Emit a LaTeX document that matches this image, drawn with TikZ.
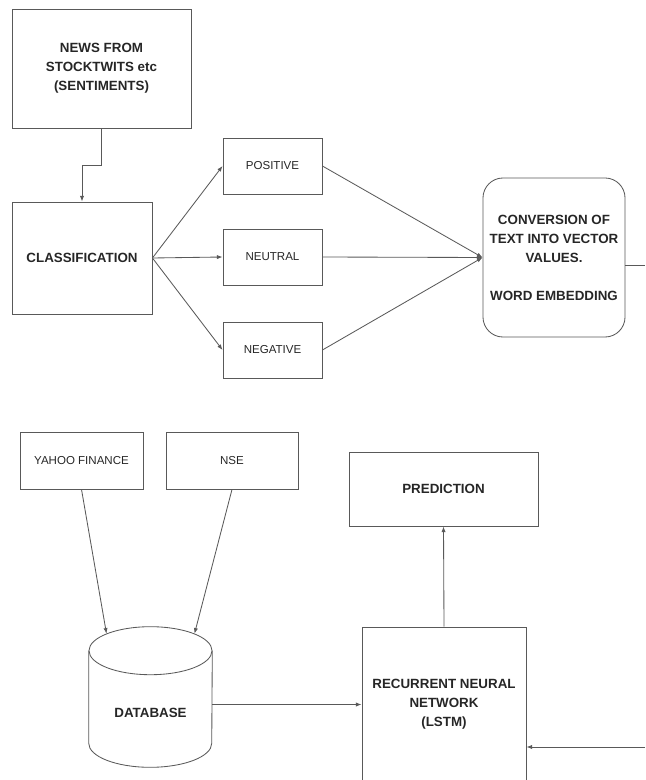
\documentclass[tikz,border=0pt]{standalone}
\usepackage{fontspec}
\setsansfont{Liberation Sans}
\usepackage{tikz}
\usetikzlibrary{positioning, arrows.meta, calc}

\begin{document}
\begin{tikzpicture}[x=0.025cm, y=-0.025cm,
    box/.style={draw=black!65, line width=0.6pt, align=center, inner sep=0pt,
      font=\sffamily\bfseries\fontsize{9.5}{13.5}\selectfont, text=black!85},
    smallbox/.style={box, minimum width=2.475cm, minimum height=1.4cm,
      font=\sffamily\fontsize{8.2}{9}\selectfont},
    link/.style={draw=black!65, line width=0.6pt},
    arr/.style={link, -{Latex[length=4pt,width=3pt]}}]
  \useasboundingbox (0,0) rectangle (645,780);
  \clip (0,0) rectangle (645,780);

  % sentiment side
  \node(news)[box, minimum width=4.475cm, minimum height=2.975cm] at (101.5,68.5)
    {NEWS FROM\\STOCKTWITS etc\\(SENTIMENTS)};
  \node(classif)[box, minimum width=3.5cm, minimum height=2.8cm] at (82,258) {CLASSIFICATION};
  \node(pos)[smallbox] at (272.5,166) {POSITIVE};
  \node(neu)[smallbox] at (272.5,257) {NEUTRAL};
  \node(neg)[smallbox] at (272.5,350) {NEGATIVE};
  \node(conv)[box, rounded corners=0.5cm, minimum width=3.55cm, minimum height=3.975cm] at (554,257.5)
    {CONVERSION OF\\TEXT INTO VECTOR\\VALUES.\\[13.5pt]WORD EMBEDDING};
  \coordinate(convout) at (645,265);

  % price data side
  \node(yahoo)[smallbox, minimum width=3.075cm, minimum height=1.425cm] at (81.5,460.5) {YAHOO FINANCE};
  \node(nse)[smallbox, minimum width=3.3cm, minimum height=1.425cm] at (232,460.5) {NSE};
  \node(db)[minimum width=3.075cm, minimum height=3.5cm, inner sep=0pt] at (150.5,697) {};
  \node(dblabel)[font=\sffamily\bfseries\fontsize{9.5}{13.5}\selectfont, text=black!85] at (150.5,713) {DATABASE};
  \node(pred)[box, minimum width=4.725cm, minimum height=1.85cm] at (443.5,489) {PREDICTION};
  \node(rnn)[box, minimum width=4.1cm, minimum height=3.875cm] at (444,704.5)
    {RECURRENT NEURAL\\NETWORK\\(LSTM)};
  \coordinate(lstmin) at (645,747);

  % cylinder
  \draw[link] ($(db.north)+(0,24)$) ellipse [x radius=1.5375cm, y radius=0.6cm];
  \draw[link] ($(db.north west)+(0,24)$) -- ($(db.south west)+(0,-24)$)
    arc[start angle=180, end angle=360, x radius=1.5375cm, y radius=0.6cm]
    -- ($(db.north east)+(0,24)$);

  \draw[arr] (news.south) -- ++(0,37) -| (classif.north);
  \foreach \n in {pos,neu,neg}
    \draw[arr] (classif.east) -- (\n.west);
  \foreach \n in {pos,neu,neg}
    \draw[arr] (\n.east) -- (conv.west);
  \draw[link] (conv.east |- convout) -- (convout);

  \draw[arr] (yahoo.south) -- ($(db.north)+(-44,7)$);
  \draw[arr] (nse.south) -- ($(db.north)+(44,7)$);
  \draw[arr] (db.east |- rnn.west) -- (rnn.west);
  \draw[arr] (rnn.north) -- (pred.south);
  \draw[arr] (lstmin) -- (lstmin -| rnn.east);
\end{tikzpicture}
\end{document}
